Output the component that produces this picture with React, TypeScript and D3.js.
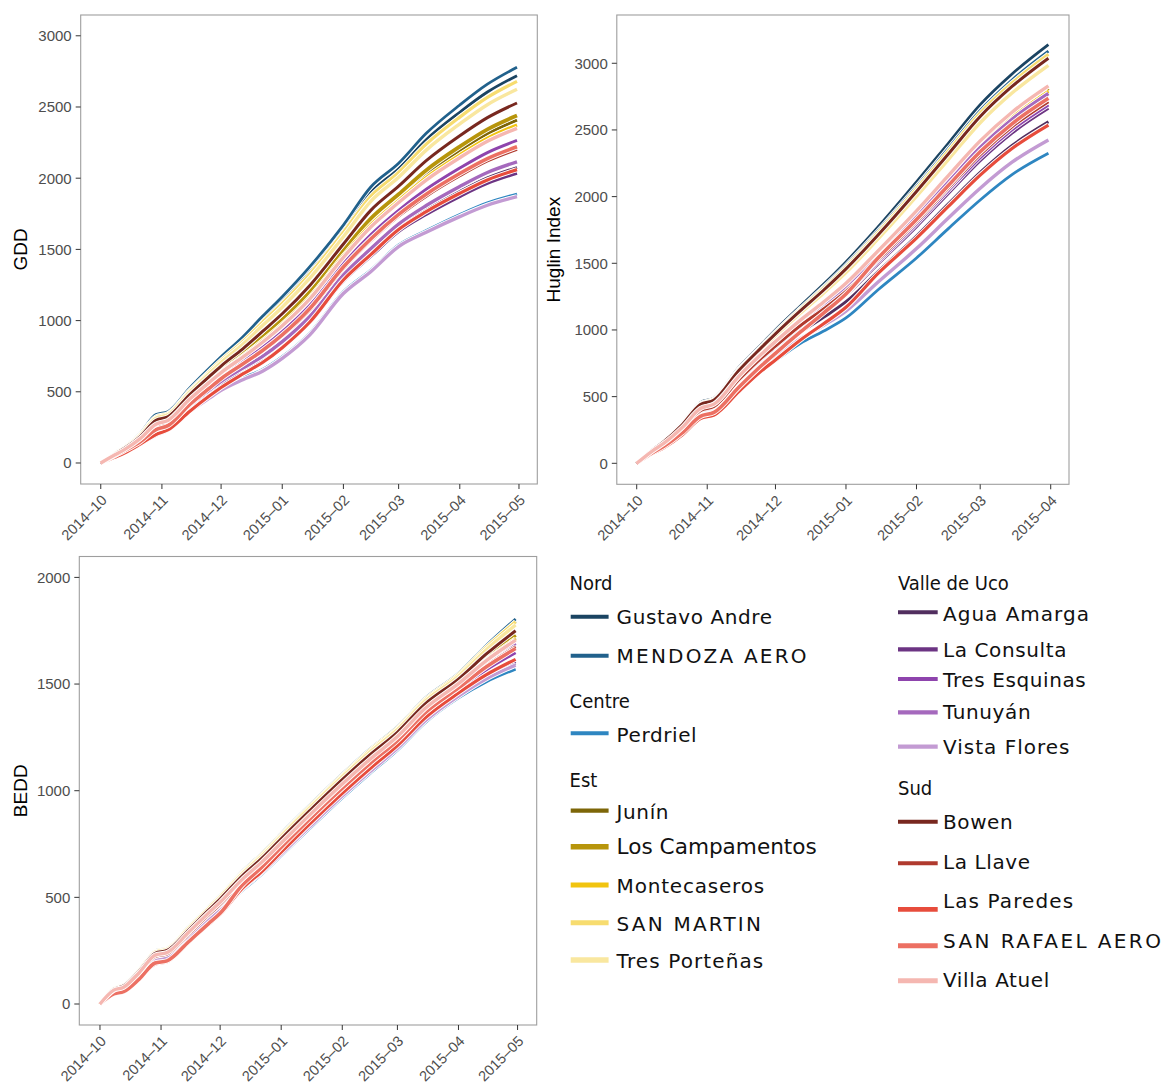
import React from "react";
import * as d3 from "d3";

// ---------- DATA ----------
const DATES = ["2014-10-01","2014-10-08","2014-10-13","2014-10-21","2014-10-29","2014-11-04","2014-11-15","2014-11-25","2014-12-01","2014-12-12","2014-12-22","2015-01-01","2015-01-15","2015-02-01","2015-02-15","2015-03-01","2015-03-15","2015-04-01","2015-04-15","2015-04-30"];
const HUGLIN_DATES = ["2014-10-01","2014-10-08","2014-10-13","2014-10-21","2014-10-29","2014-11-04","2014-11-15","2014-11-25","2014-12-01","2014-12-12","2014-12-22","2015-01-01","2015-01-15","2015-02-01","2015-02-15","2015-03-01","2015-03-15","2015-03-31"];

const GROUPS = ["Nord", "Centre", "Est", "Valle de Uco", "Sud"];
const STATIONS = ["Gustavo Andre","MENDOZA AERO","Perdriel","Junín","Los Campamentos","Montecaseros","SAN MARTIN","Tres Porteñas","Agua Amarga","La Consulta","Tres Esquinas","Tunuyán","Vista Flores","Bowen","La Llave","Las Paredes","SAN RAFAEL AERO","Villa Atuel"];

// GDD
const GDD_GUSTAVO_ANDRE = [0,68,112,203,331,352,514,651,731,866,1005,1140,1348,1640,1901,2067,2270,2463,2605,2720];
const GDD_MENDOZA_AERO = [0,70,115,208,340,360,525,665,746,885,1030,1168,1379,1671,1940,2105,2315,2514,2660,2779];
const GDD_PERDRIEL = [0,41,72,135,203,240,372,467,522,597,657,747,912,1202,1356,1531,1632,1745,1827,1889];
const GDD_JUNIN = [0,58,97,176,281,307,458,579,650,763,873,991,1184,1475,1697,1866,2031,2194,2313,2408];
const GDD_LOS_CAMPAMENTOS = [0,59,98,179,286,312,463,587,658,773,886,1006,1200,1492,1718,1887,2056,2222,2343,2440];
const GDD_MONTECASEROS = [0,57,95,173,275,302,451,571,641,751,858,975,1165,1456,1675,1844,2005,2164,2281,2374];
const GDD_SAN_MARTIN = [0,67,110,199,324,346,507,642,720,852,988,1121,1327,1619,1875,2041,2239,2429,2567,2680];
const GDD_TRES_PORTENAS = [0,65,107,195,315,338,497,629,706,834,965,1094,1298,1589,1839,2006,2197,2381,2516,2624];
const GDD_AGUA_AMARGA = [0,47,80,148,228,259,397,502,563,653,732,833,1008,1299,1479,1652,1777,1907,2002,2075];
const GDD_LA_CONSULTA = [0,45,78,144,221,253,390,493,552,639,714,813,986,1277,1452,1625,1745,1871,1963,2034];
const GDD_TRES_ESQUINAS = [0,53,90,164,258,287,432,546,613,716,812,923,1108,1399,1604,1774,1922,2071,2180,2265];
const GDD_TUNUYAN = [0,48,82,151,234,265,405,512,574,666,749,852,1029,1320,1506,1678,1808,1942,2040,2115];
const GDD_VISTA_FLORES = [0,40,70,130,195,230,360,455,510,585,645,735,900,1190,1345,1520,1620,1730,1810,1870];
const GDD_BOWEN = [0,62,103,186,300,324,479,607,681,802,924,1048,1247,1538,1776,1944,2123,2298,2425,2528];
const GDD_LA_LLAVE = [0,51,86,159,248,278,420,532,596,695,786,893,1075,1366,1563,1734,1874,2017,2121,2203];
const GDD_LAS_PAREDES = [0,40,70,132,200,232,362,470,530,625,706,810,990,1285,1465,1640,1765,1894,1988,2060];
const GDD_SAN_RAFAEL_AERO = [0,52,87,150,235,262,410,525,592,695,790,900,1085,1376,1575,1746,1888,2033,2138,2221];
const GDD_VILLA_ATUEL = [0,56,94,171,272,299,447,566,635,743,848,964,1153,1444,1659,1829,1987,2144,2259,2350];

// Huglin index
const HUG_GUSTAVO_ANDRE = [0,105,170,300,455,490,720,895,1000,1180,1340,1510,1770,2110,2400,2690,2920,3140];
const HUG_MENDOZA_AERO = [0,103,167,295,448,483,710,883,986,1163,1319,1485,1742,2076,2362,2647,2875,3091];
const HUG_PERDRIEL = [0,75,120,215,340,370,545,700,770,900,990,1090,1300,1540,1760,1975,2165,2325];
const HUG_JUNIN = [0,93,149,265,407,440,647,814,905,1064,1195,1336,1575,1873,2134,2393,2607,2802];
const HUG_LOS_CAMPAMENTOS = [0,93,150,266,409,442,650,817,908,1068,1200,1342,1582,1882,2144,2404,2618,2814];
const HUG_MONTECASEROS = [0,92,149,263,406,438,645,811,901,1060,1190,1329,1568,1865,2125,2383,2595,2790];
const HUG_SAN_MARTIN = [0,102,166,292,445,479,704,877,979,1155,1309,1472,1728,2059,2342,2626,2852,3067];
const HUG_TRES_PORTENAS = [0,99,161,284,433,467,687,858,956,1127,1274,1430,1681,2002,2278,2554,2777,2985];
const HUG_AGUA_AMARGA = [0,84,135,240,373,405,596,757,837,981,1092,1212,1436,1705,1946,2182,2384,2561];
const HUG_LA_CONSULTA = [0,87,141,250,387,420,617,781,865,1016,1135,1263,1494,1775,2024,2270,2477,2662];
const HUG_TRES_ESQUINAS = [0,88,142,253,391,423,623,787,872,1025,1146,1277,1509,1794,2045,2293,2501,2688];
const HUG_TUNUYAN = [0,92,148,262,403,436,641,807,897,1054,1183,1321,1559,1854,2112,2368,2580,2773];
const HUG_VISTA_FLORES = [0,79,126,225,354,385,567,724,798,934,1033,1142,1358,1610,1839,2063,2258,2425];
const HUG_BOWEN = [0,101,164,289,441,475,698,871,971,1145,1296,1458,1711,2039,2320,2601,2826,3038];
const HUG_LA_LLAVE = [0,89,144,255,395,427,628,793,879,1033,1156,1290,1523,1811,2064,2315,2524,2712];
const HUG_LAS_PAREDES = [0,74,118,212,335,362,540,695,775,925,1045,1170,1422,1688,1926,2161,2361,2537];
const HUG_SAN_RAFAEL_AERO = [0,80,128,228,352,382,572,735,825,985,1125,1270,1537,1828,2083,2336,2546,2737];
const HUG_VILLA_ATUEL = [0,94,151,268,411,444,654,821,913,1074,1207,1350,1591,1893,2157,2418,2633,2830];

// BEDD
const BEDD_GUSTAVO_ANDRE = [0,74,91,163,248,261,359,452,507,616,701,795,923,1073,1190,1295,1428,1545,1673,1795];
const BEDD_MENDOZA_AERO = [0,75,92,165,250,263,362,455,510,620,705,800,928,1078,1195,1300,1433,1550,1680,1805];
const BEDD_PERDRIEL = [0,50,62,125,200,211,300,385,432,530,607,694,818,966,1080,1190,1318,1435,1510,1570];
const BEDD_JUNIN = [0,66,81,150,231,243,338,428,480,586,668,760,886,1035,1151,1258,1389,1506,1615,1716];
const BEDD_LOS_CAMPAMENTOS = [0,67,82,152,234,246,342,433,485,591,674,766,893,1042,1158,1265,1396,1513,1626,1730];
const BEDD_MONTECASEROS = [0,65,80,149,230,242,338,427,479,584,666,758,885,1034,1150,1257,1388,1505,1613,1712];
const BEDD_SAN_MARTIN = [0,74,90,163,247,260,359,451,506,615,700,794,922,1072,1189,1294,1427,1544,1671,1792];
const BEDD_TRES_PORTENAS = [0,72,88,160,244,257,355,447,501,609,693,787,915,1065,1181,1287,1419,1536,1660,1777];
const BEDD_AGUA_AMARGA = [0,53,66,130,206,217,307,393,441,541,619,707,831,979,1094,1203,1332,1449,1530,1598];
const BEDD_LA_CONSULTA = [0,54,67,131,208,219,309,396,444,544,622,710,835,983,1097,1207,1335,1452,1536,1605];
const BEDD_TRES_ESQUINAS = [0,58,72,138,216,228,320,408,458,560,639,729,854,1003,1118,1226,1356,1473,1566,1647];
const BEDD_TUNUYAN = [0,63,77,146,226,238,332,421,472,576,657,749,875,1024,1139,1247,1377,1494,1598,1691];
const BEDD_VISTA_FLORES = [0,52,64,128,204,215,305,391,438,537,615,702,827,975,1089,1199,1327,1444,1524,1589];
const BEDD_BOWEN = [0,69,85,156,238,251,347,439,492,599,682,775,902,1052,1168,1274,1406,1523,1640,1750];
const BEDD_LA_LLAVE = [0,61,75,143,222,234,328,416,467,570,651,741,867,1016,1131,1239,1369,1486,1586,1675];
const BEDD_LAS_PAREDES = [0,46,56,116,188,198,288,372,420,540,620,712,840,988,1103,1212,1341,1458,1543,1616];
const BEDD_SAN_RAFAEL_AERO = [0,48,58,118,192,202,292,376,425,555,640,735,863,1012,1127,1235,1365,1482,1580,1667];
const BEDD_VILLA_ATUEL = [0,65,79,148,229,241,336,426,477,582,664,755,882,1031,1147,1254,1385,1502,1609,1706];

const GDD_TICKS = [0, 500, 1000, 1500, 2000, 2500, 3000];
const HUG_TICKS = [0, 500, 1000, 1500, 2000, 2500, 3000];
const BEDD_TICKS = [0, 500, 1000, 1500, 2000];

// tables built from the arrays
const GDD_SERIES = [GDD_GUSTAVO_ANDRE,GDD_MENDOZA_AERO,GDD_PERDRIEL,GDD_JUNIN,GDD_LOS_CAMPAMENTOS,GDD_MONTECASEROS,GDD_SAN_MARTIN,GDD_TRES_PORTENAS,GDD_AGUA_AMARGA,GDD_LA_CONSULTA,GDD_TRES_ESQUINAS,GDD_TUNUYAN,GDD_VISTA_FLORES,GDD_BOWEN,GDD_LA_LLAVE,GDD_LAS_PAREDES,GDD_SAN_RAFAEL_AERO,GDD_VILLA_ATUEL];
const HUG_SERIES = [HUG_GUSTAVO_ANDRE,HUG_MENDOZA_AERO,HUG_PERDRIEL,HUG_JUNIN,HUG_LOS_CAMPAMENTOS,HUG_MONTECASEROS,HUG_SAN_MARTIN,HUG_TRES_PORTENAS,HUG_AGUA_AMARGA,HUG_LA_CONSULTA,HUG_TRES_ESQUINAS,HUG_TUNUYAN,HUG_VISTA_FLORES,HUG_BOWEN,HUG_LA_LLAVE,HUG_LAS_PAREDES,HUG_SAN_RAFAEL_AERO,HUG_VILLA_ATUEL];
const BEDD_SERIES = [BEDD_GUSTAVO_ANDRE,BEDD_MENDOZA_AERO,BEDD_PERDRIEL,BEDD_JUNIN,BEDD_LOS_CAMPAMENTOS,BEDD_MONTECASEROS,BEDD_SAN_MARTIN,BEDD_TRES_PORTENAS,BEDD_AGUA_AMARGA,BEDD_LA_CONSULTA,BEDD_TRES_ESQUINAS,BEDD_TUNUYAN,BEDD_VISTA_FLORES,BEDD_BOWEN,BEDD_LA_LLAVE,BEDD_LAS_PAREDES,BEDD_SAN_RAFAEL_AERO,BEDD_VILLA_ATUEL];

// ---------- STYLE ----------
const COLORS: Record<string, string> = {
  "Gustavo Andre": "#1b4462",
  "MENDOZA AERO": "#21618c",
  "Perdriel": "#2e86c1",
  "Junín": "#7d6608",
  "Los Campamentos": "#b7950b",
  "Montecaseros": "#f1c40f",
  "SAN MARTIN": "#f7dc6f",
  "Tres Porteñas": "#f9e79f",
  "Agua Amarga": "#512e5f",
  "La Consulta": "#6c3483",
  "Tres Esquinas": "#8e44ad",
  "Tunuyán": "#a569bd",
  "Vista Flores": "#c39bd3",
  "Bowen": "#78281f",
  "La Llave": "#b03a2e",
  "Las Paredes": "#e74c3c",
  "SAN RAFAEL AERO": "#ec7063",
  "Villa Atuel": "#f5b7b1",
};
const WIDTHS: Record<string, number> = {
  "Gustavo Andre": 2.8, "MENDOZA AERO": 2.8, "Perdriel": 2.8, "Junín": 3,
  "Los Campamentos": 3.8, "Montecaseros": 3.2, "SAN MARTIN": 3.2, "Tres Porteñas": 3.4,
  "Agua Amarga": 2.8, "La Consulta": 3, "Tres Esquinas": 3, "Tunuyán": 3.4,
  "Vista Flores": 3.4, "Bowen": 3, "La Llave": 3, "Las Paredes": 3.2,
  "SAN RAFAEL AERO": 3.6, "Villa Atuel": 3.4,
};

const parse = d3.utcParse("%Y-%m-%d");
const fmt = d3.utcFormat("%Y\u2013%m");
const TICK_FONT = "'Liberation Sans', Arial, sans-serif";

type PanelCfg = {
  title: string;
  box: { x0: number; x1: number; y0: number; y1: number };
  xDomain: [Date, Date];
  yDomain: [number, number];
  yTicks: number[];
  dates: string[];
  series: number[][];
  titleX: number;
};

const PANELS: PanelCfg[] = [
  {
    title: "GDD",
    box: { x0: 80.7, x1: 537.3, y0: 15, y1: 484 },
    xDomain: [new Date(Date.UTC(2014, 8, 20, 20)), new Date(Date.UTC(2015, 4, 10, 7))],
    yDomain: [-147.5, 3146],
    yTicks: GDD_TICKS,
    dates: DATES,
    series: GDD_SERIES,
    titleX: 20,
  },
  {
    title: "Huglin Index",
    box: { x0: 616.8, x1: 1069, y0: 15, y1: 484.3 },
    xDomain: [new Date(Date.UTC(2014, 8, 22, 6)), new Date(Date.UTC(2015, 3, 9, 1))],
    yDomain: [-157.5, 3362],
    yTicks: HUG_TICKS,
    dates: HUGLIN_DATES,
    series: HUG_SERIES,
    titleX: 553,
  },
  {
    title: "BEDD",
    box: { x0: 79.3, x1: 536.7, y0: 556.5, y1: 1025 },
    xDomain: [new Date(Date.UTC(2014, 8, 20, 12)), new Date(Date.UTC(2015, 4, 10, 17))],
    yDomain: [-98.4, 2098],
    yTicks: BEDD_TICKS,
    dates: DATES,
    series: BEDD_SERIES,
    titleX: 20,
  },
];

function Panel({ cfg }: { cfg: PanelCfg }) {
  const { box } = cfg;
  const x = d3.scaleUtc().domain(cfg.xDomain).range([box.x0, box.x1]);
  const y = d3.scaleLinear().domain(cfg.yDomain).range([box.y1, box.y0]);
  const dates = cfg.dates.map((s) => parse(s) as Date);
  const line = d3
    .line<number>()
    .x((_, i) => x(dates[i]))
    .y((v) => y(v))
    .curve(d3.curveMonotoneX);
  const xTicks = x.ticks(d3.utcMonth.every(1) as any);
  const cy = (box.y0 + box.y1) / 2;
  return (
    <g>
      {STATIONS.map((name, i) => {
        const d = line(cfg.series[i]) || "";
        const w = WIDTHS[name];
        return (
          <g key={name}>
            <path d={d} fill="none" stroke="#ffffff" strokeWidth={w + 1.8} strokeLinejoin="round" />
            <path d={d} fill="none" stroke={COLORS[name]} strokeWidth={w} strokeLinejoin="round" />
          </g>
        );
      })}
      <rect x={box.x0} y={box.y0} width={box.x1 - box.x0} height={box.y1 - box.y0} fill="none" stroke="#9e9e9e" strokeWidth={1.1} />
      {cfg.yTicks.map((t) => (
        <g key={"y" + t}>
          <line x1={box.x0 - 5} x2={box.x0} y1={y(t)} y2={y(t)} stroke="#333" strokeWidth={1} />
          <text x={box.x0 - 9} y={y(t)} dy="0.36em" textAnchor="end" fontFamily={TICK_FONT} fontSize={15} fill="#4d4d4d">
            {t}
          </text>
        </g>
      ))}
      {xTicks.map((t) => (
        <g key={"x" + t.getTime()}>
          <line x1={x(t)} x2={x(t)} y1={box.y1} y2={box.y1 + 5} stroke="#333" strokeWidth={1} />
          <text
            transform={`translate(${x(t) + 3.2},${box.y1 + 13.4}) rotate(-45)`}
            dy="0.36em"
            textAnchor="end"
            fontFamily={TICK_FONT}
            fontSize={14.6}
            fill="#4d4d4d"
          >
            {fmt(t)}
          </text>
        </g>
      ))}
      <text
        transform={`translate(${cfg.titleX},${cy}) rotate(-90)`}
        textAnchor="middle"
        dominantBaseline="central"
        fontFamily={TICK_FONT}
        fontSize={19}
        fill="#000"
      >
        {cfg.title}
      </text>
    </g>
  );
}

// legend layout (positions only)
const LEG_COLS = [
  { keyX0: 570.7, keyX1: 608.6, textX: 616.6, titleX: 569.6 },
  { keyX0: 898, keyX1: 937.7, textX: 943, titleX: 898 },
];
const LEG_TITLES = [
  { group: "Nord", col: 0, y: 582.5 },
  { group: "Centre", col: 0, y: 701.3 },
  { group: "Est", col: 0, y: 779.5 },
  { group: "Valle de Uco", col: 1, y: 582.5 },
  { group: "Sud", col: 1, y: 787.8 },
];
const LEG_ITEMS: Record<string, { col: number; keyY: number; textY: number; kw: number; fs?: number; ls?: number }> = {
  "Gustavo Andre": { col: 0, keyY: 616.7, textY: 617.2, kw: 4 },
  "MENDOZA AERO": { col: 0, keyY: 655.7, textY: 656.2, kw: 4, ls: 2.2 },
  "Perdriel": { col: 0, keyY: 733.3, textY: 734.7, kw: 4 },
  "Junín": { col: 0, keyY: 810.7, textY: 811.8, kw: 4.3 },
  "Los Campamentos": { col: 0, keyY: 846.7, textY: 846.7, kw: 5.5, fs: 21.6, ls: 0 },
  "Montecaseros": { col: 0, keyY: 885, textY: 886.2, kw: 5, ls: 0.8 },
  "SAN MARTIN": { col: 0, keyY: 922.7, textY: 923.8, kw: 5, ls: 2.2 },
  "Tres Porteñas": { col: 0, keyY: 960, textY: 961, kw: 5.3, ls: 1.1 },
  "Agua Amarga": { col: 1, keyY: 612.3, textY: 613.8, kw: 4, ls: 1 },
  "La Consulta": { col: 1, keyY: 649.3, textY: 649.5, kw: 4.3 },
  "Tres Esquinas": { col: 1, keyY: 679, textY: 679.5, kw: 4 },
  "Tunuyán": { col: 1, keyY: 712.3, textY: 712, kw: 4.3 },
  "Vista Flores": { col: 1, keyY: 746.7, textY: 747.2, kw: 4.3, ls: 1 },
  "Bowen": { col: 1, keyY: 821.7, textY: 821.7, kw: 4 },
  "La Llave": { col: 1, keyY: 863.3, textY: 861.7, kw: 4 },
  "Las Paredes": { col: 1, keyY: 909.3, textY: 901.2, kw: 4.7, ls: 1.1 },
  "SAN RAFAEL AERO": { col: 1, keyY: 945.7, textY: 941.2, kw: 5, ls: 2.4 },
  "Villa Atuel": { col: 1, keyY: 980.7, textY: 980, kw: 5 },
};

function Legend() {
  return (
    <g>
      {LEG_TITLES.map((t) => (
        <text
          key={t.group}
          x={LEG_COLS[t.col].titleX}
          y={t.y}
          dominantBaseline="central"
          fontFamily="'DejaVu Sans Condensed', 'DejaVu Sans', sans-serif"
          fontStretch="condensed"
          fontSize={20}
          fill="#111"
        >
          {GROUPS.includes(t.group) ? t.group : ""}
        </text>
      ))}
      {STATIONS.map((name) => {
        const it = LEG_ITEMS[name];
        const c = LEG_COLS[it.col];
        return (
          <g key={name}>
            <line x1={c.keyX0} x2={c.keyX1} y1={it.keyY} y2={it.keyY} stroke={COLORS[name]} strokeWidth={it.kw} />
            <text
              x={c.textX}
              y={it.textY}
              dominantBaseline="central"
              fontFamily="'DejaVu Sans', sans-serif"
              fontSize={it.fs ?? 20}
              letterSpacing={it.ls ?? 0.6}
              fill="#111"
            >
              {name}
            </text>
          </g>
        );
      })}
    </g>
  );
}

export default function App() {
  return (
    <svg
      width={1164}
      height={1086}
      viewBox="0 0 1164 1086"
      style={{ position: "absolute", left: 0, top: 0, background: "#fff" }}
    >
      <rect x={0} y={0} width={1164} height={1086} fill="#fff" />
      {PANELS.map((p) => (
        <Panel key={p.title} cfg={p} />
      ))}
      <Legend />
    </svg>
  );
}
